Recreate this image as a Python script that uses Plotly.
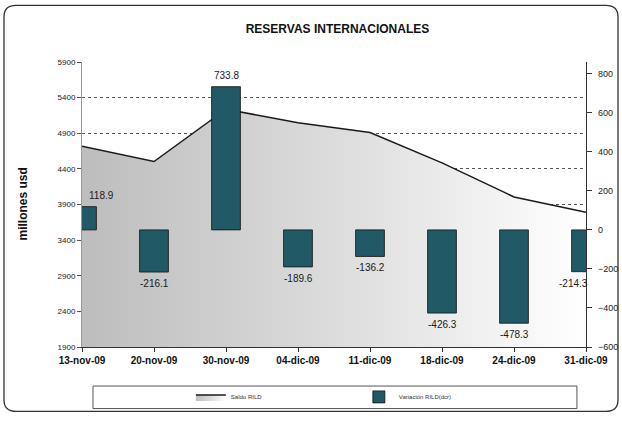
import plotly.graph_objects as go

categories = ["13-nov-09", "20-nov-09", "30-nov-09", "04-dic-09",
              "11-dic-09", "18-dic-09", "24-dic-09", "31-dic-09"]
saldo_rild = [4719.1, 4503.0, 5236.8, 5047.2, 4911.0, 4484.7, 4006.4, 3792.1]
variacion_rild = [118.9, -216.1, 733.8, -189.6, -136.2, -426.3, -478.3, -214.3]
variacion_labels = ["118.9", "-216.1", "733.8", "-189.6", "-136.2", "-426.3", "-478.3", "-214.3"]

FONT = "Liberation Sans, Arial, sans-serif"
xpos = list(range(len(categories)))

fig = go.Figure()

fig.add_trace(go.Scatter(
    x=xpos, y=saldo_rild, name="Saldo RILD", mode="lines",
    line=dict(color="#1a1a1a", width=1.5),
    fill="tozeroy",
    fillgradient=dict(type="horizontal",
                      colorscale=[[0, "#bdbdbd"], [0.5, "#dcdcdc"], [1, "#ffffff"]]),
    yaxis="y", hoverinfo="skip",
))

fig.add_trace(go.Bar(
    x=xpos, y=variacion_rild, name="Variación RILD(dcr)",
    width=0.4, marker=dict(color="#215967", line=dict(color="#111111", width=0.8)),
    yaxis="y2",
))

annotations = []
n = len(categories)
for i, (v, t) in enumerate(zip(variacion_rild, variacion_labels)):
    xs = 0
    if i == 0:
        xs = 19
    elif i == n - 1:
        xs = -13
    annotations.append(dict(
        x=i, y=v, xref="x", yref="y2", text=t, showarrow=False,
        yanchor="bottom" if v > 0 else "top",
        yshift=4 if v > 0 else -4, xshift=xs,
        font=dict(family=FONT, size=10, color="#1a1a1a"),
    ))

annotations.append(dict(
    x=-0.119, y=0.5, xref="paper", yref="paper", text="<b>millones usd</b>",
    textangle=-90, showarrow=False, xanchor="center", yanchor="middle",
    font=dict(family=FONT, size=12, color="#111111"),
))

# outer rounded frame (paper coords)
x0, x1 = -0.1548, 1.0635
y0, y1 = -0.226, 1.1986
rx, ry = 0.024, 0.041
frame_path = (f"M {x0+rx},{y1} L {x1-rx},{y1} Q {x1},{y1} {x1},{y1-ry} "
              f"L {x1},{y0+ry} Q {x1},{y0} {x1-rx},{y0} L {x0+rx},{y0} "
              f"Q {x0},{y0} {x0},{y0+ry} L {x0},{y1-ry} Q {x0},{y1} {x0+rx},{y1} Z")

shapes = [
    dict(type="path", path=frame_path, xref="paper", yref="paper",
         line=dict(color="#333333", width=1.3), layer="below"),
    dict(type="rect", xref="paper", yref="paper",
         x0=0.0218, x1=0.982, y0=-0.216, y1=-0.137,
         line=dict(color="#555555", width=1), layer="below"),
]

fig.update_layout(
    width=622, height=423, autosize=False,
    margin=dict(l=82, r=36, t=62, b=69),
    paper_bgcolor="white", plot_bgcolor="white",
    font=dict(family=FONT, color="#111111"),
    title=dict(text="<b>RESERVAS INTERNACIONALES</b>", x=0.5426, xref="container",
               y=0.931, yref="container", xanchor="center", yanchor="middle",
               font=dict(family=FONT, size=12, color="#111111")),
    showlegend=True,
    legend=dict(orientation="h", x=0.216, y=-0.175, xanchor="left", yanchor="middle",
                font=dict(family=FONT, size=6, color="#333333"),
                entrywidth=123, entrywidthmode="pixels",
                bgcolor="rgba(0,0,0,0)", itemwidth=30),
    xaxis=dict(range=[0, 7], tickmode="array", tickvals=xpos,
               ticktext=[f"<b>{c}</b>" for c in categories],
               showgrid=False, zeroline=False, showline=True, automargin=False,
               linecolor="#333333", linewidth=1.2, ticks="outside", ticklen=4,
               tickcolor="#333333",
               tickfont=dict(family=FONT, size=10, color="#111111")),
    yaxis=dict(range=[1900, 5900], tick0=1900, dtick=500, automargin=False,
               showgrid=True, gridcolor="#555555", griddash="dot", gridwidth=1,
               zeroline=False, showline=True, linecolor="#999999", linewidth=1,
               ticks="outside", ticklen=4, tickcolor="#555555",
               tickfont=dict(family=FONT, size=8, color="#222222")),
    yaxis2=dict(range=[-600, 860], tick0=-600, dtick=200, overlaying="y", side="right",
                showgrid=False, zeroline=False, showline=True, linecolor="#333333",
                automargin=False,
                linewidth=1.2, ticks="outside", ticklen=5, tickcolor="#333333",
                tickfont=dict(family=FONT, size=9, color="#222222"),
                ticklabelstandoff=4),
    annotations=annotations,
    shapes=shapes,
    bargap=0.6,
)

post = "document.body.style.margin='0px';document.body.style.overflow='hidden';"

fig.write_html("out.html", post_script=post,
               config={"displayModeBar": False, "responsive": False})
